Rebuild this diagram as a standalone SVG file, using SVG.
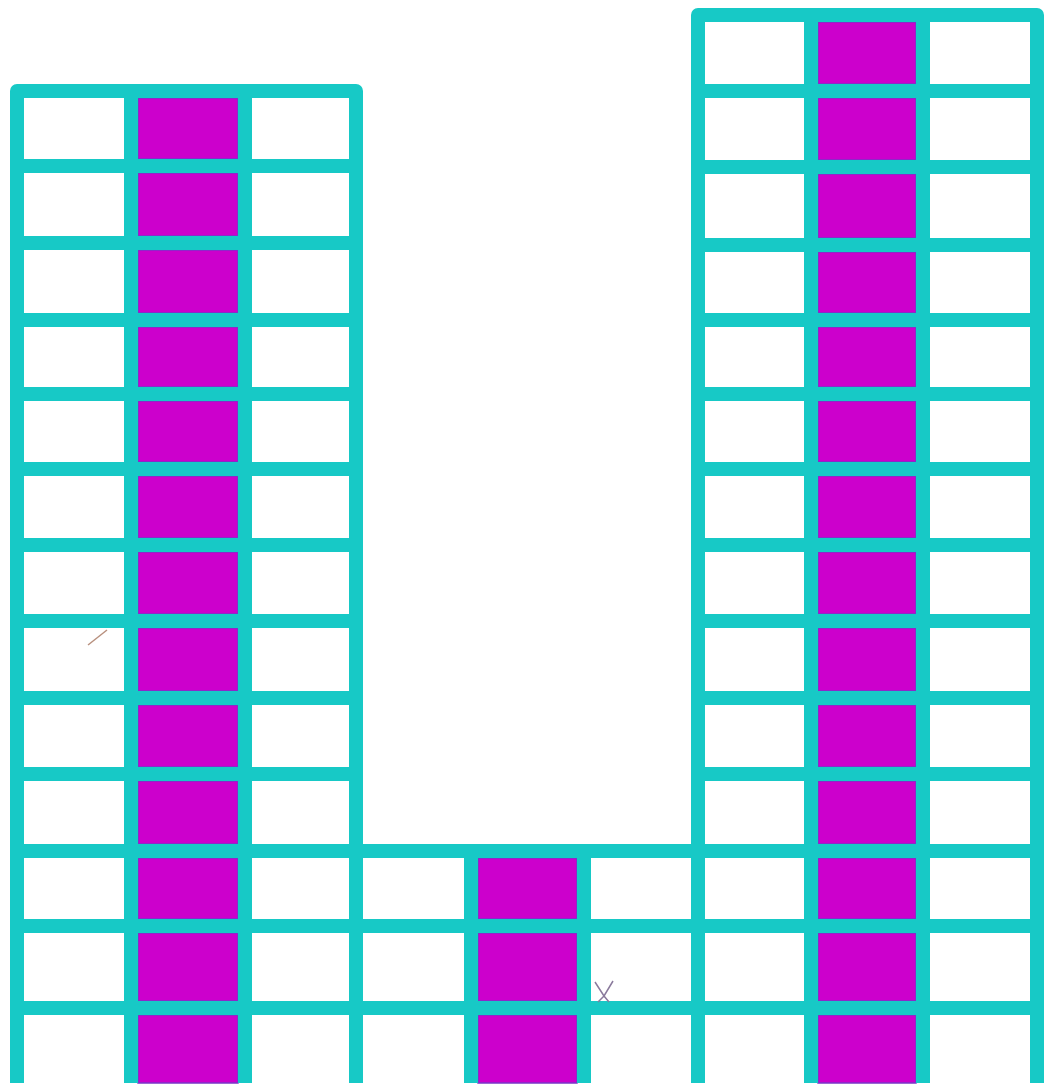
<svg xmlns="http://www.w3.org/2000/svg" width="1052" height="1088" viewBox="0 0 1052 1088">
<defs>
<style>
.frame{fill:none;stroke:#17c9c6;stroke-width:14;stroke-linejoin:round;stroke-linecap:butt}
.bay{fill:#cc00cc;stroke:#7a35c8;stroke-width:1.5}
</style>
</defs>
<rect width="1052" height="1088" fill="#ffffff"/>
<g id="left-tower">
<g id="left-core">
<rect class="bay" x="138" y="98" width="100" height="61"/>
<rect class="bay" x="138" y="173" width="100" height="63"/>
<rect class="bay" x="138" y="250" width="100" height="63"/>
<rect class="bay" x="138" y="327" width="100" height="60"/>
<rect class="bay" x="138" y="401" width="100" height="61"/>
<rect class="bay" x="138" y="476" width="100" height="62"/>
<rect class="bay" x="138" y="552" width="100" height="62"/>
<rect class="bay" x="138" y="628" width="100" height="63"/>
<rect class="bay" x="138" y="705" width="100" height="62"/>
<rect class="bay" x="138" y="781" width="100" height="63"/>
<rect class="bay" x="138" y="858" width="100" height="61"/>
<rect class="bay" x="138" y="933" width="100" height="68"/>
<rect class="bay" x="138" y="1015" width="100" height="68"/>
</g>
<path class="frame" d="M17 1083V91H356V1083M131 91V1083M245 91V1083M17 166H356M17 243H356M17 320H356M17 394H356M17 469H356M17 545H356M17 621H356M17 698H356M17 774H356M17 851H356M17 926H356M17 1008H356"/>
</g>
<g id="middle-block">
<rect class="bay" x="478" y="858" width="99" height="61"/>
<rect class="bay" x="478" y="933" width="99" height="68"/>
<rect class="bay" x="478" y="1015" width="99" height="68"/>
<path class="frame" d="M356 851H698M356 926H698M356 1008H698M471 851V1083M584 851V1083"/>
</g>
<g id="right-tower">
<g id="right-core">
<rect class="bay" x="818" y="22" width="98" height="62"/>
<rect class="bay" x="818" y="98" width="98" height="62"/>
<rect class="bay" x="818" y="174" width="98" height="64"/>
<rect class="bay" x="818" y="252" width="98" height="61"/>
<rect class="bay" x="818" y="327" width="98" height="60"/>
<rect class="bay" x="818" y="401" width="98" height="61"/>
<rect class="bay" x="818" y="476" width="98" height="62"/>
<rect class="bay" x="818" y="552" width="98" height="62"/>
<rect class="bay" x="818" y="628" width="98" height="63"/>
<rect class="bay" x="818" y="705" width="98" height="62"/>
<rect class="bay" x="818" y="781" width="98" height="63"/>
<rect class="bay" x="818" y="858" width="98" height="61"/>
<rect class="bay" x="818" y="933" width="98" height="68"/>
<rect class="bay" x="818" y="1015" width="98" height="68"/>
</g>
<path class="frame" d="M698 1083V15H1037V1083M811 15V1083M923 15V1083M698 91H1037M698 167H1037M698 245H1037M698 320H1037M698 394H1037M698 469H1037M698 545H1037M698 621H1037M698 698H1037M698 774H1037M698 851H1037M698 926H1037M698 1008H1037"/>
</g>
<g id="marks">
<line x1="88" y1="645" x2="107" y2="630" stroke="#b8907e" stroke-width="1.5"/>
<path d="M595 982L604 996L613 981M604 996L598 1002M604 996L609 1002" fill="none" stroke="#8a7a9c" stroke-width="1.5"/>
</g>
</svg>
